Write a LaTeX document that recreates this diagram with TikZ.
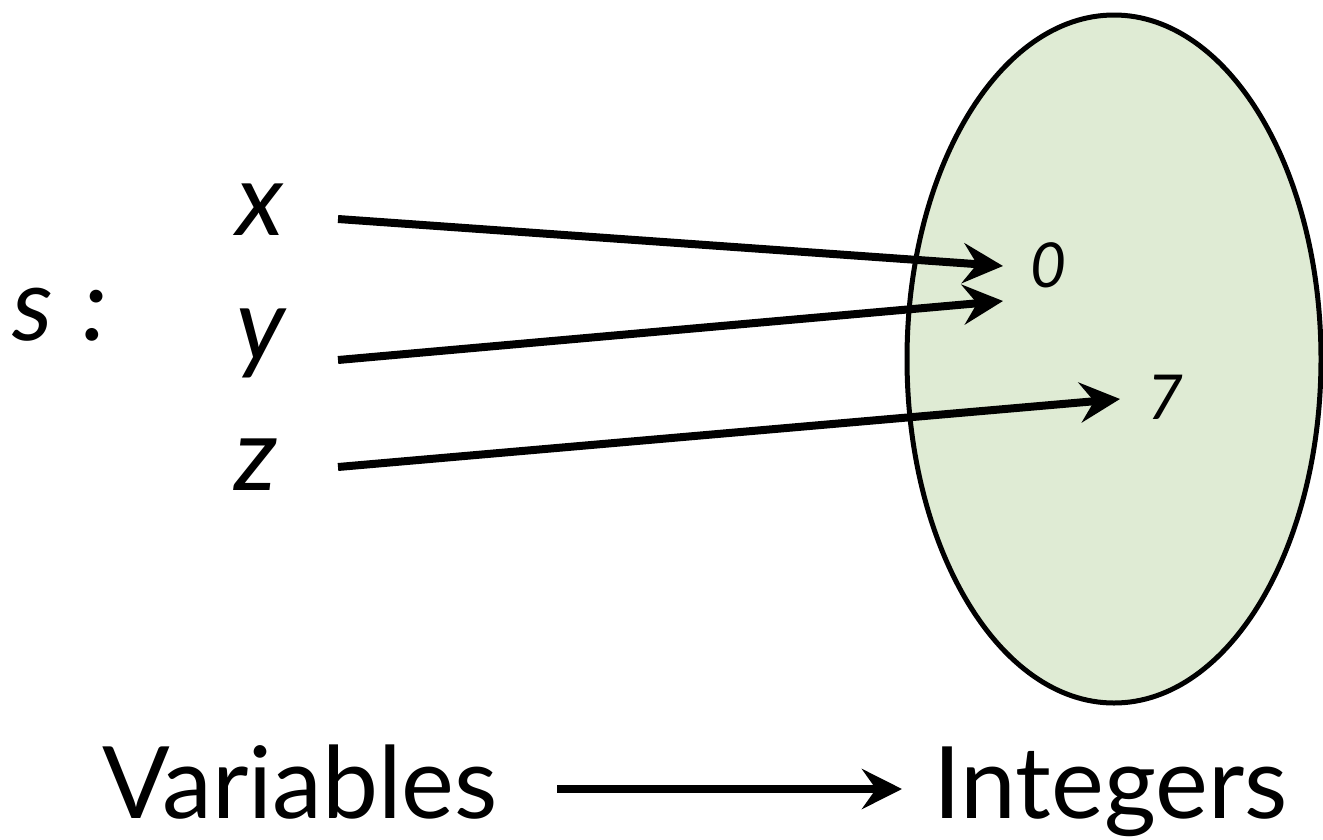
\documentclass[tikz,border=0pt]{standalone}
\usepackage{fontspec}
\setmainfont{Lato}
\usetikzlibrary{arrows.meta,shapes.geometric}
\definecolor{setgreen}{RGB}{223,235,212}
\begin{document}
\begin{tikzpicture}[x=1pt,y=-1pt,
  varlabel/.style={font=\fontsize{102}{102}\selectfont\itshape, inner sep=0pt, anchor=base west},
  numlabel/.style={font=\fontsize{62}{62}\selectfont\itshape, inner sep=0pt},
  setname/.style={font=\fontsize{100}{100}\selectfont, inner sep=0pt, anchor=base west},
  maparrow/.style={line width=8pt, -{Stealth[length=40pt,width=40pt,inset=14pt]}},
  setbody/.style={draw, line width=5pt, fill=setgreen, ellipse, inner sep=0pt},
]
\useasboundingbox (0,0) rectangle (1323,839);
\node[setbody, minimum width=414pt, minimum height=688pt] (ints) at (1114,359) {};
\node[varlabel] (s) at (12,340) {s\hspace{30pt}:};
\node[varlabel] (x) at (236,235) {x};
\node[varlabel] (y) at (236,360) {y};
\node[varlabel] (z) at (234,490) {z};
\node[numlabel] (zero) at (1048,265) {0};
\node[numlabel] (seven) at (1165,397) {7};
\coordinate (xa) at (338,219);
\coordinate (ya) at (338,360);
\coordinate (za) at (338,467);
\coordinate (xb) at (1003,266);
\coordinate (yb) at (1003,301);
\coordinate (zb) at (1120,399);
\draw[maparrow] (xa) -- (xb);
\draw[maparrow] (ya) -- (yb);
\draw[maparrow] (za) -- (zb);
\node[setname] (vars) at (102,818) {Variables};
\node[setname] (intsname) at (933,818) {Integers};
\coordinate (fa) at (557,789);
\coordinate (fb) at (902,789);
\draw[maparrow] (fa) -- (fb);
\end{tikzpicture}
\end{document}
